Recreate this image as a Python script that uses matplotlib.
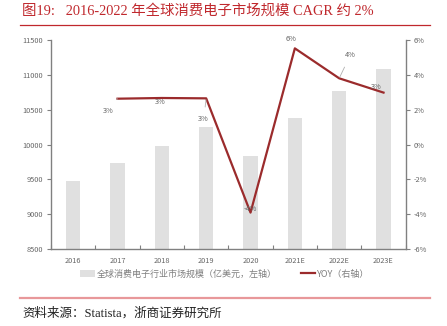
import matplotlib
matplotlib.use("Agg")
import matplotlib.pyplot as plt
from matplotlib.patches import Patch
from matplotlib.lines import Line2D
import numpy as np

plt.rcParams['font.family'] = ['Noto Sans CJK SC', 'DejaVu Sans']

# Data
years = ["2016", "2017", "2018", "2019", "2020", "2021E", "2022E", "2023E"]
market_size = [9475, 9730, 9980, 10245, 9835, 10380, 10770, 11085]   # 亿美元
yoy_years = ["2017", "2018", "2019", "2020", "2021E", "2022E", "2023E"]
yoy = [2.63, 2.67, 2.65, -3.91, 5.52, 3.80, 2.98]                   # %

left_ticks = [8500, 9000, 9500, 10000, 10500, 11000, 11500]
right_ticks = [-6, -4, -2, 0, 2, 4, 6]

title_text = "图19:   2016-2022 年全球消费电子市场规模 CAGR 约 2%"
legend_bar = "全球消费电子行业市场规模（亿美元，左轴）"
legend_line = "YOY（右轴）"
source_text = "资料来源：Statista，浙商证券研究所"

RED = "#c0282d"
LINE = "#9b2b2c"
BAR = "#e0e0e0"
AX = "#808080"

fig = plt.figure(figsize=(4.47, 3.26), dpi=100)
W, H = 447, 326

def fx(px):
    return px / W

def fy(py):
    return 1 - py / H

ax = fig.add_axes([fx(51), fy(249), fx(405.7) - fx(51), fy(40) - fy(249)])
x = np.arange(len(years))
ax.bar(x, market_size, width=0.32, color=BAR, zorder=1)
ax.set_xlim(-0.5, len(years) - 0.5)
ax.set_ylim(8500, 11500)
ax.set_yticks(left_ticks)
ax.set_yticklabels([str(t) for t in left_ticks])
ax.set_xticks(x)
ax.set_xticklabels(years)
ax.set_xticks(np.arange(-0.5, len(years)), minor=True)
ax.tick_params(axis='x', which='major', length=0, pad=6, labelsize=5.3, labelcolor="#666666")
ax.tick_params(axis='x', which='minor', direction='in', length=3, color=AX, width=0.8)
ax.tick_params(axis='y', direction='out', length=3, color=AX, width=0.8,
               labelsize=5.3, labelcolor="#666666", pad=3)
for side in ["top", "right"]:
    ax.spines[side].set_visible(False)
for side in ["left", "bottom"]:
    ax.spines[side].set_color(AX)
    ax.spines[side].set_linewidth(1.0)

ax2 = ax.twinx()
xi = [years.index(y) for y in yoy_years]
ax2.plot(xi, yoy, color=LINE, lw=1.6, zorder=3)
ax2.set_ylim(-6, 6)
ax2.set_yticks(right_ticks)
ax2.set_yticklabels([f"{t}%" for t in right_ticks])
ax2.tick_params(axis='y', direction='out', length=3, color=AX, width=0.8,
                labelsize=5.3, labelcolor="#666666", pad=3)
for side in ["top", "left", "bottom"]:
    ax2.spines[side].set_visible(False)
ax2.spines["right"].set_color(AX)
ax2.spines["right"].set_linewidth(1.0)

# data labels (offset in pixels), with optional leader line
offsets = [(-9, -12, True), (-2, -4.5, False), (-2.5, -21, True), (0, 3.7, False),
           (-3.6, 9, False), (11, 23, True), (-7, 6, False)]
for xv, v, (dx, dy, lead) in zip(xi, yoy, offsets):
    ax2.annotate(f"{v:.0f}%", (xv, v), xytext=(dx, dy), textcoords='offset pixels',
                 ha='center', va='center', fontsize=5.3, color="#666666",
                 arrowprops=dict(arrowstyle='-', color="#b0b0b0", lw=0.6,
                                 shrinkA=4, shrinkB=1) if lead else None,
                 zorder=4)

# title and rules
fig.text(fx(22), fy(11), title_text, fontsize=10.4, color=RED, ha='left', va='center',
         family=['Liberation Serif', 'Noto Sans CJK SC'])
fig.add_artist(Line2D([fx(20), fx(430)], [fy(24.5), fy(24.5)], color=RED, lw=0.9))
fig.add_artist(Line2D([fx(20), fx(430)], [fy(297.5), fy(297.5)], color="#e8989a", lw=1.6))
fig.text(fx(22), fy(313), source_text, fontsize=9, color="#222222", ha='left', va='center',
         family=['Liberation Serif', 'Noto Sans CJK SC'])

# legend
handles = [Patch(facecolor=BAR, edgecolor='none', label=legend_bar),
           Line2D([0], [0], color=LINE, lw=1.6, label=legend_line)]
leg = fig.legend(handles=handles, loc='center', bbox_to_anchor=(fx(225), fy(274)), ncol=2,
                 frameon=False, fontsize=6.5, handlelength=1.6, handleheight=0.7,
                 handletextpad=0.2, columnspacing=2.7)
for t in leg.get_texts():
    t.set_color("#7f7f7f")

fig.savefig("out.png", dpi=100)
